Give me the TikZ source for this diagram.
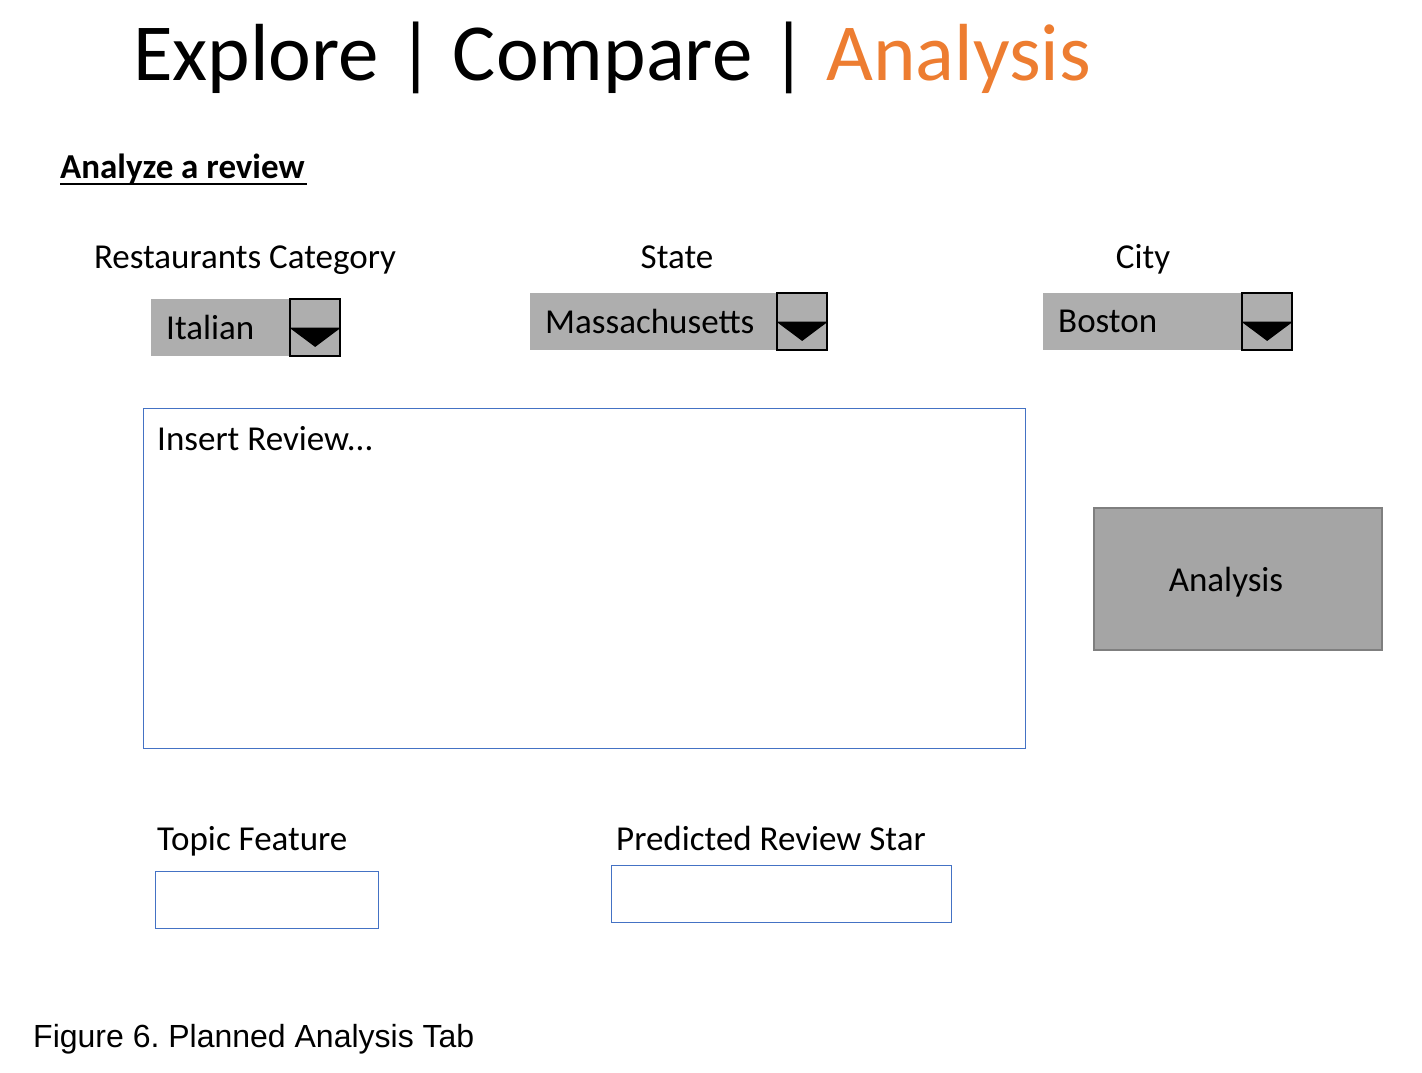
\documentclass[tikz,border=0pt]{standalone}
\usepackage{fontspec}
\setmainfont{Carlito}
\newfontfamily\captionfont{Liberation Sans}
\usepackage{xcolor}
\usetikzlibrary{positioning}
\definecolor{taborange}{RGB}{237,125,49}
\definecolor{dropgray}{RGB}{174,174,174}
\definecolor{buttongray}{RGB}{165,165,165}
\definecolor{buttonedge}{RGB}{127,127,127}
\definecolor{fieldblue}{RGB}{68,114,196}
\frenchspacing

\begin{document}
\begin{tikzpicture}[x=1pt, y=-1pt, node distance=0pt,
  font=\fontsize{35}{42}\selectfont,
  formlabel/.style={anchor=base west, inner sep=0pt},
  dropbox/.style={rectangle, fill=dropgray, anchor=north west, inner xsep=15pt, inner ysep=0pt, align=left, minimum height=57pt},
  dropbutton/.style={draw, rectangle, line width=1.5pt, fill=dropgray, minimum width=50pt, minimum height=57pt, inner sep=0pt},
  field/.style={draw=fieldblue, rectangle, line width=1.2pt, anchor=north west, inner sep=0pt}]
\useasboundingbox (0,0) rectangle (1422,1072);

% header
\node[formlabel, font=\fontsize{81}{97}\selectfont] (title) at (133,80) {Explore | Compare | \textcolor{taborange}{Analysis}};
\node[formlabel, font=\bfseries\fontsize{35}{42}\selectfont] (heading) at (60,178) {Analyze a review};
\draw[line width=2.5pt] ([yshift=-6pt]heading.base west) -- ([yshift=-6pt,xshift=2pt]heading.base east);

% drop-down menus
\node[anchor=base, inner sep=0pt] (catlabel) at (245,268) {Restaurants Category};
\node[anchor=base, inner sep=0pt] (statelabel) at (677,268) {State};
\node[anchor=base, inner sep=0pt] (citylabel) at (1143,268) {City};

\node[dropbox, text width=108pt] (catbox) at (151,299) {Italian};
\node[dropbutton, right=0pt of catbox] (catbtn) {};
\node[dropbox, text width=216pt] (statebox) at (530,293) {Massachusetts};
\node[dropbutton, right=0pt of statebox] (statebtn) {};
\node[dropbox, text width=168pt] (citybox) at (1043,293) {Boston};
\node[dropbutton, right=0pt of citybox] (citybtn) {};
\foreach \btn in {catbtn, statebtn, citybtn}
  \fill (\btn.west) -- (\btn.east) -- ([yshift=10pt]\btn.south) -- cycle;

% review input and button
\node[field, minimum width=882pt, minimum height=340pt] (reviewbox) at (143,408) {};
\node[formlabel] (reviewtext) at (157,450) {Insert Review...};
\node[draw=buttonedge, fill=buttongray, line width=1.5pt, minimum width=288pt, minimum height=142pt, anchor=north west] (analysisbtn) at (1093,507) {};
\node[anchor=base, inner sep=0pt] (analysistext) at (1226,591) {Analysis};

% outputs
\node[formlabel] (topiclabel) at (157,850) {Topic Feature};
\node[field, minimum width=223pt, minimum height=57pt] (topicbox) at (155,871) {};
\node[formlabel] (starlabel) at (616,850) {Predicted Review Star};
\node[field, minimum width=340pt, minimum height=57pt] (starbox) at (611,865) {};

\node[formlabel, font=\captionfont\fontsize{32}{38}\selectfont] (caption) at (33,1047) {Figure 6. Planned Analysis Tab};
\end{tikzpicture}
\end{document}
